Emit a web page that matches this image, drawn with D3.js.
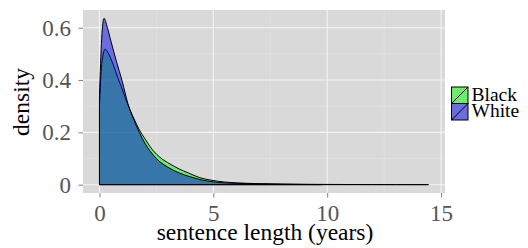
<html>
<head>
  <script src="https://cdn.jsdelivr.net/npm/d3@7"></script>
  <style>
  body { margin: 0; background: #fff; }
  text { font-family: "Liberation Serif", "DejaVu Serif", serif; }
  </style>
</head>
<body>
  <script>

// sentence length (years) and estimated density for each group
var groups = ['Black', 'White'];
var fills = ['#00ff00', '#0000e6'];

var blackX = [0, 0.1, 0.25, 0.4, 0.6, 0.8, 1.0, 1.25, 1.5, 1.75, 2.0, 2.36, 2.65, 3.1, 3.5, 3.9, 4.4, 4.85, 5.5, 6, 7, 8, 9, 10, 11, 12, 13, 14.45];
var blackY = [0.30, 0.46, 0.518, 0.5, 0.46, 0.41, 0.365, 0.305, 0.255, 0.21, 0.175, 0.13, 0.105, 0.079, 0.06, 0.045, 0.027, 0.018, 0.01, 0.007, 0.004, 0.0025, 0.0015, 0.001, 0.0006, 0.0004, 0.0003, 0.0002];

var whiteX = [0, 0.1, 0.2, 0.35, 0.5, 0.75, 1.0, 1.25, 1.5, 1.75, 2.0, 2.5, 3.0, 3.5, 4.0, 4.5, 5.0, 5.5, 6, 7, 8, 9, 9.75];
var whiteY = [0.34, 0.56, 0.636, 0.6, 0.55, 0.47, 0.395, 0.31, 0.25, 0.2, 0.158, 0.1, 0.067, 0.045, 0.03, 0.018, 0.011, 0.007, 0.005, 0.003, 0.0015, 0.0008, 0.0004];

var xTicks = [0, 5, 10, 15];
var xMinor = [2.5, 7.5, 12.5];
var yTicks = [0, 0.2, 0.4, 0.6];
var yMinor = [0.1, 0.3, 0.5];

var width = 528,
    height = 248;

var svg = d3.select('body')
  .append('svg')
  .attr('width', width)
  .attr('height', height);

var xmax = d3.max(blackX.concat(whiteX));
var ymax = d3.max(blackY.concat(whiteY));

var x = d3.scaleLinear()
  .domain([-0.05 * xmax, xmax * 1.05])
  .range([83, 445]);

var y = d3.scaleLinear()
  .domain([-0.05 * ymax, ymax * 1.05])
  .range([193, 10]);

// panel
svg.append('rect')
  .attr('x', 83).attr('y', 10)
  .attr('width', 445 - 83).attr('height', 193 - 10)
  .attr('fill', '#d9d9d9');

var grid = svg.append('g');

grid.selectAll('.xminor')
  .data(xMinor)
  .enter().append('line')
  .attr('x1', x).attr('x2', x)
  .attr('y1', 10).attr('y2', 193)
  .attr('stroke', '#e4e4e4').attr('stroke-width', 0.6);

grid.selectAll('.yminor')
  .data(yMinor)
  .enter().append('line')
  .attr('y1', y).attr('y2', y)
  .attr('x1', 83).attr('x2', 445)
  .attr('stroke', '#e4e4e4').attr('stroke-width', 0.6);

grid.selectAll('.xmajor')
  .data(xTicks)
  .enter().append('line')
  .attr('x1', x).attr('x2', x)
  .attr('y1', 10).attr('y2', 193)
  .attr('stroke', '#f4f4f4').attr('stroke-width', 1.1);

grid.selectAll('.ymajor')
  .data(yTicks)
  .enter().append('line')
  .attr('y1', y).attr('y2', y)
  .attr('x1', 83).attr('x2', 445)
  .attr('stroke', '#f4f4f4').attr('stroke-width', 1.1);

// densities
var series = [
  { name: 'Black', pts: d3.zip(blackX, blackY) },
  { name: 'White', pts: d3.zip(whiteX, whiteY) }
];

var area = d3.area()
  .x(function(d) { return x(d[0]); })
  .y0(y(0))
  .y1(function(d) { return y(d[1]); })
  .curve(d3.curveMonotoneX);

svg.append('g').selectAll('path')
  .data(series)
  .enter().append('path')
  .attr('d', function(d) { return area(d.pts); })
  .attr('fill', function(d, i) { return fills[i]; })
  .attr('fill-opacity', 0.5)
  .attr('stroke', '#000')
  .attr('stroke-width', 1)
  .attr('stroke-linejoin', 'round');

// axes
var xAxis = svg.append('g')
  .attr('transform', 'translate(0,193)')
  .call(d3.axisBottom(x).tickValues(xTicks).tickSize(4.5).tickPadding(7.5).tickFormat(d3.format('d')));
var yAxis = svg.append('g')
  .attr('transform', 'translate(83,0)')
  .call(d3.axisLeft(y).tickValues(yTicks).tickSize(4.5).tickPadding(7.5).tickFormat(function(d) { return d === 0 ? '0' : d3.format('.1f')(d); }));

[xAxis, yAxis].forEach(function(a) {
  a.select('.domain').remove();
  a.selectAll('.tick line').attr('stroke', '#7f7f7f');
  a.selectAll('.tick text')
    .attr('fill', '#555')
    .style('font-size', '23px')
    .style('font-family', '"Liberation Serif", serif');
});

svg.append('text')
  .attr('x', 265).attr('y', 239.5)
  .attr('text-anchor', 'middle')
  .style('font-size', '23.5px')
  .text('sentence length (years)');

svg.append('text')
  .attr('transform', 'translate(28.5,102) rotate(-90)')
  .attr('text-anchor', 'middle')
  .style('font-size', '23.5px')
  .text('density');

// legend
var legend = svg.append('g').attr('transform', 'translate(451.5,87)');
var key = legend.selectAll('g')
  .data(groups)
  .enter().append('g')
  .attr('transform', function(d, i) { return 'translate(0,' + (i * 16.5) + ')'; });

key.append('rect')
  .attr('width', 16.5).attr('height', 16.5)
  .attr('fill', '#d9d9d9');
key.append('rect')
  .attr('width', 16.5).attr('height', 16.5)
  .attr('fill', function(d, i) { return fills[i]; })
  .attr('fill-opacity', 0.5)
  .attr('stroke', '#000').attr('stroke-width', 1);
key.append('line')
  .attr('x1', 0).attr('y1', 16.5).attr('x2', 16.5).attr('y2', 0)
  .attr('stroke', '#000').attr('stroke-width', 1);
key.append('text')
  .attr('x', 20).attr('y', 13.7)
  .style('font-size', '19.5px')
  .text(function(d) { return d; });

  </script>
</body>
</html>
